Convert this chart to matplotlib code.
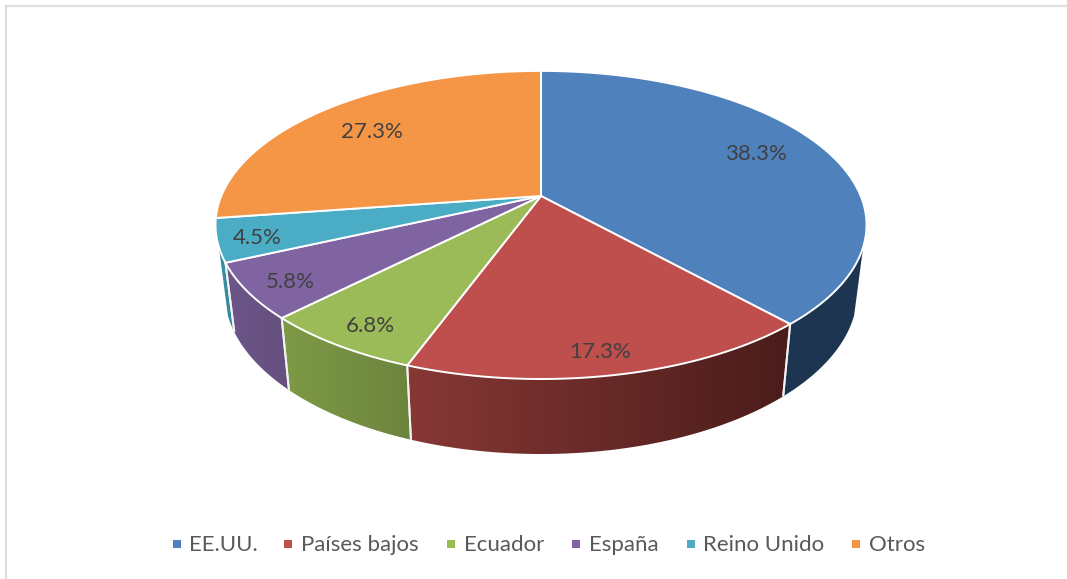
import numpy as np
import matplotlib
matplotlib.use("Agg")
import matplotlib.pyplot as plt
from matplotlib.patches import Polygon, Rectangle
from matplotlib.colors import LinearSegmentedColormap

categories = ["EE.UU.", "Países bajos", "Ecuador", "España", "Reino Unido", "Otros"]
values = [38.3, 17.3, 6.8, 5.8, 4.5, 27.3]
top_colors = ["#4f81bd", "#be4f4c", "#9bbb59", "#8064a2", "#4bacc6", "#f59647"]
wall_left = ["#1d3550", "#873835", "#7d9a46", "#6d5589", "#3a93a8", "#c87a38"]
wall_right = ["#1d3550", "#4a1c1b", "#6c843d", "#65507f", "#338499", "#c87a38"]
label_xy = [(756, 154), (600, 352), (370, 326), (290, 282), (257, 238), (372, 132)]
legend_marker_x = [177, 288, 451, 576, 691, 856]
legend_text_x = [189, 301, 464, 589, 703, 869]

W, H = 1067, 579
CX, CY, A, B, K = 541.0, 196.0, 319.7, 148.6, -0.188
SX, SY, Y0, Y1 = 0.972, 1.05, 379.0, 454.0
WALL_FROM, WALL_TO = np.radians(108.8), np.radians(251.2)

plt.rcParams["font.family"] = ["Lato", "DejaVu Sans"]
fig = plt.figure(figsize=(W / 100, H / 100), dpi=100)
ax = fig.add_axes([0, 0, 1, 1])
ax.axis("off")


def top(theta):
    u, v = np.sin(theta), -np.cos(theta)
    d = 1 + K * v
    return CX + A * u / d, CY + B * v / d


def bottom(x, y):
    return CX + SX * (x - CX), Y1 + SY * (y - Y0)


# frame: only the left and top rules are visible
ax.plot([6, 6, W], [H, 6, 6], color="#dedede", lw=1.6, zorder=0, solid_joinstyle="miter")

edges = 2 * np.pi * np.cumsum([0] + values) / sum(values)
ramp = np.linspace(0, 1, 256).reshape(1, -1)

# side walls: the outward-facing part of each slice
for i in range(len(values)):
    lo, hi = max(edges[i], WALL_FROM), min(edges[i + 1], WALL_TO)
    if lo >= hi:
        continue
    x, y = top(np.linspace(lo, hi, 200))
    bx, by = bottom(x, y)
    pts = np.column_stack([np.r_[x, bx[::-1]], np.r_[y, by[::-1]]])
    poly = Polygon(pts, closed=True, fc="none", ec="none", zorder=1)
    ax.add_patch(poly)
    cmap = LinearSegmentedColormap.from_list("w", [wall_left[i], wall_right[i]])
    im = ax.imshow(ramp, cmap=cmap, aspect="auto", zorder=1,
                   extent=(pts[:, 0].min(), pts[:, 0].max(), pts[:, 1].max(), pts[:, 1].min()))
    im.set_clip_path(poly)
    # white seams at the slice edges
    for th in (edges[i], edges[i + 1]):
        if WALL_FROM < th < WALL_TO:
            a, b = top(th)
            c, d = bottom(a, b)
            ax.plot([a, c], [b, d], color="#f2f2f2", lw=1.4, zorder=2, solid_capstyle="butt")

# top faces
for i in range(len(values)):
    x, y = top(np.linspace(edges[i], edges[i + 1], 200))
    pts = np.column_stack([np.r_[CX, x], np.r_[CY, y]])
    ax.add_patch(Polygon(pts, closed=True, fc=top_colors[i], ec="white", lw=1.4, zorder=3, joinstyle="round"))

for v, (lx, ly) in zip(values, label_xy):
    ax.text(lx, ly, f"{v:.1f}%", ha="center", va="center", fontsize=16, color="#404040", zorder=4)

for name, c, mx, tx in zip(categories, top_colors, legend_marker_x, legend_text_x):
    ax.add_patch(Rectangle((mx - 4, 540), 8, 8, fc=c, ec="none", zorder=4))
    ax.text(tx, 545, name, ha="left", va="center", fontsize=16, color="#595959", zorder=4)

ax.set_xlim(0, W)
ax.set_ylim(H, 0)
fig.savefig("out.png", dpi=100)
